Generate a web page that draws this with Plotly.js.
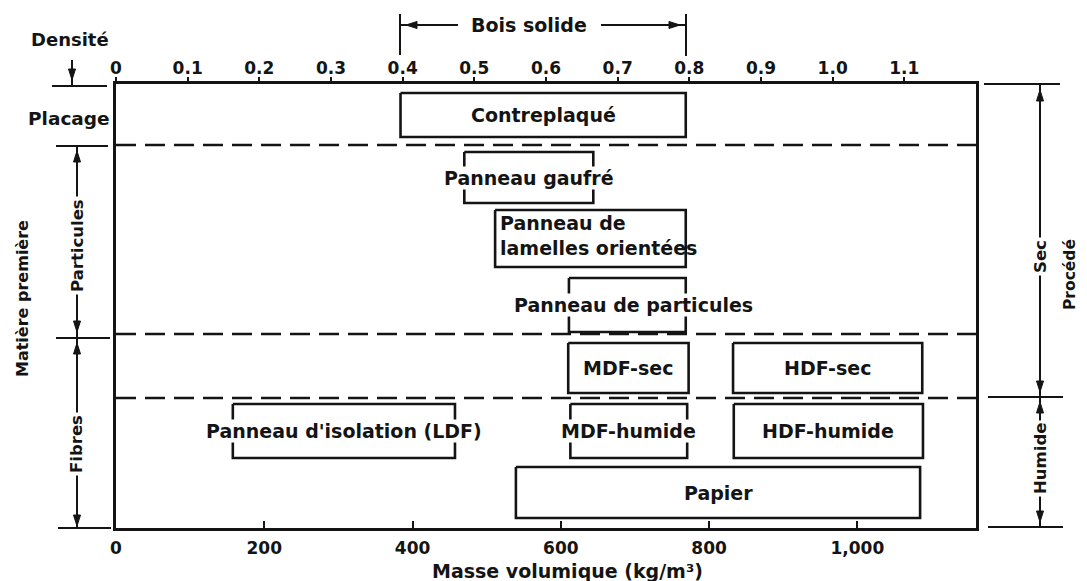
<!DOCTYPE html>
<html>
<head>
<meta charset="utf-8">
<script src="https://cdn.plot.ly/plotly-3.0.1.min.js"></script>
<style>html,body{margin:0;padding:0;background:#fff;}#chart{width:1087px;height:581px;}</style>
</head>
<body>
<div id="chart"></div>
<script>
// ---------- DATA ----------
const produits = ["Contreplaqué", "Panneau gaufré", "Panneau de lamelles orientées", "Panneau de particules",
  "MDF-sec", "HDF-sec", "Panneau d'isolation (LDF)", "MDF-humide", "HDF-humide", "Papier"];
const etiquettes = ["Contreplaqué", "Panneau gaufré", "Panneau de<br>lamelles orientées", "Panneau de particules",
  "MDF-sec", "HDF-sec", "Panneau d'isolation (LDF)", "MDF-humide", "HDF-humide", "Papier"];
const masseMin = [397, 486, 529, 632, 631, 861, 163, 634, 862, 558];   // kg/m³
const masseMax = [795, 666, 795, 795, 799, 1125, 473, 797, 1126, 1122]; // kg/m³
const rangee   = [0, 1, 2, 3, 4, 4, 5, 5, 5, 6];
const densiteTickVals = [0, 100, 200, 300, 400, 500, 600, 700, 800, 900, 1000, 1100];
const densiteTickText = ["0", "0.1", "0.2", "0.3", "0.4", "0.5", "0.6", "0.7", "0.8", "0.9", "1.0", "1.1"];
const masseTickVals = [0, 200, 400, 600, 800, 1000];
const masseTickText = ["0", "200", "400", "600", "800", "1,000"];

// ---------- LAYOUT HELPERS (positions / styles) ----------
const INK = "#141414";
const FONT = "DejaVu Sans";
const L = 116, R = 976, T = 84, B = 528;
const W = R - L, H = B - T;
const bands = [[9, 53], [68, 119], [126, 183], [194, 248], [259, 309], [320, 374], [383, 434]];
const separators = [61, 250, 314];
const px = v => (v - L) / W;
const py = v => (B - v) / H;

const traces = [];
produits.forEach((p, i) => {
  const [t, b] = bands[rangee[i]];
  const a = masseMin[i], z = masseMax[i];
  traces.push({
    type: "scatter", mode: "lines", xaxis: "x2", yaxis: "y",
    x: [a, z, z, a, a], y: [t, t, b, b, t],
    line: {color: INK, width: 2.6}, hoverinfo: "skip", showlegend: false, name: p
  });
});
traces.push({type: "scatter", mode: "markers", x: [0], y: [0], xaxis: "x", yaxis: "y",
  marker: {opacity: 0, size: 1}, hoverinfo: "skip", showlegend: false});

const shapes = [];
separators.forEach(s => shapes.push({type: "line", xref: "paper", yref: "y", x0: 0, x1: 1, y0: s, y1: s,
  line: {color: INK, width: 2.4, dash: "20px,9px"}}));

function seg(x0, y0, x1, y1, w) {
  shapes.push({type: "line", xref: "paper", yref: "paper", x0: px(x0), y0: py(y0), x1: px(x1), y1: py(y1),
    line: {color: INK, width: w || 2}});
}
function dart(x, y, dir) {
  const len = 11, hw = 3.5;
  let pts;
  if (dir === "up") pts = [[x, y], [x - hw, y + len], [x + hw, y + len]];
  else if (dir === "down") pts = [[x, y], [x - hw, y - len], [x + hw, y - len]];
  else if (dir === "left") pts = [[x, y], [x + len, y - hw], [x + len, y + hw]];
  else pts = [[x, y], [x - len, y - hw], [x - len, y + hw]];
  const path = "M" + pts.map(p => px(p[0]) + "," + py(p[1])).join(" L") + " Z";
  shapes.push({type: "path", xref: "paper", yref: "paper", path: path, fillcolor: INK, line: {color: INK, width: 1}});
}

// Densité marker
seg(72, 60, 72, 86); dart(72, 80, "down"); seg(52, 86, 107, 86);
// Particules / Fibres bracket (left)
seg(56, 146, 108, 146); seg(77, 146, 77, 338); seg(56, 338, 110, 338);
dart(77, 151, "up"); dart(77, 332, "down"); dart(77, 343, "up");
seg(77, 338, 77, 528); dart(77, 526, "down"); seg(58, 528, 111, 528);
// Sec / Humide bracket (right)
seg(984, 84, 1060, 84); seg(1040, 84, 1040, 527); seg(988, 397, 1063, 397); seg(988, 527, 1063, 527);
dart(1040, 90, "up"); dart(1040, 392, "down"); dart(1040, 402, "up"); dart(1040, 522, "down");
// Bois solide bracket
seg(400, 14, 400, 55); seg(686, 14, 686, 56);
seg(400, 25, 458, 25); seg(601, 25, 686, 25);
dart(406, 25, "left"); dart(680, 25, "right");

const annotations = [];
produits.forEach((p, i) => {
  const [t, b] = bands[rangee[i]];
  const osb = i === 2;
  annotations.push({
    xref: "x2", yref: "y", x: osb ? masseMin[i] : (masseMin[i] + masseMax[i]) / 2, y: (t + b) / 2,
    xanchor: osb ? "left" : "center", yanchor: "middle", align: osb ? "left" : "center",
    xshift: osb ? 4 : (i === 3 ? 6 : 0), yshift: osb ? 3 : 0,
    text: etiquettes[i], showarrow: false, bgcolor: osb ? "rgba(255,255,255,0)" : "#ffffff", borderpad: 0,
    font: {family: FONT, size: 19, color: INK, weight: 700}
  });
});
function txt(x, y, text, size, angle, bg) {
  annotations.push({xref: "paper", yref: "paper", x: px(x), y: py(y), text: text, showarrow: false,
    xanchor: "center", yanchor: "middle", textangle: angle || 0,
    bgcolor: bg ? "#ffffff" : "rgba(0,0,0,0)", borderpad: 2,
    font: {family: FONT, size: size, color: INK, weight: 700}});
}
txt(70, 40, "Densité", 18);
txt(69, 118, "Placage", 18.5);
txt(22, 299, "Matière première", 16, -90);
txt(77, 246, "Particules", 16.5, -90, true);
txt(77, 444, "Fibres", 16.5, -90, true);
txt(1040, 257, "Sec", 16.5, -90, true);
txt(1040, 459, "Humide", 16.5, -90, true);
txt(1070, 275, "Procédé", 15.5, -90);
txt(529, 25, "Bois solide", 19, 0, true);
txt(567, 571, "Masse volumique (kg/m³)", 19);

const tickFont = {family: FONT, size: 17, color: INK, weight: 700};
const layout = {
  width: 1087, height: 581,
  margin: {l: L, r: 1087 - R, t: T, b: 581 - B, pad: 0},
  paper_bgcolor: "#ffffff", plot_bgcolor: "#ffffff",
  showlegend: false,
  xaxis: {range: [0, 1160], tickvals: masseTickVals, ticktext: masseTickText, ticks: "inside", ticklen: 7,
    tickwidth: 2, tickcolor: INK, showline: true, linewidth: 2.6, linecolor: INK, showgrid: false,
    zeroline: false, tickfont: tickFont, fixedrange: true, anchor: "y", ticklabelstandoff: 3},
  xaxis2: {range: [0, 1200], overlaying: "x", side: "top", anchor: "y", tickvals: densiteTickVals,
    ticktext: densiteTickText, ticks: "outside", ticklen: 4, tickwidth: 2, tickcolor: INK, showline: true,
    linewidth: 2.6, linecolor: INK, showgrid: false, zeroline: false, tickfont: tickFont, fixedrange: true,
    ticklabelstandoff: -3},
  yaxis: {range: [H, 0], showline: true, mirror: true, linewidth: 2.6, linecolor: INK, showticklabels: false,
    ticks: "", showgrid: false, zeroline: false, fixedrange: true},
  shapes: shapes,
  annotations: annotations
};
Plotly.newPlot("chart", traces, layout, {displayModeBar: false, staticPlot: true});
</script>
</body>
</html>
